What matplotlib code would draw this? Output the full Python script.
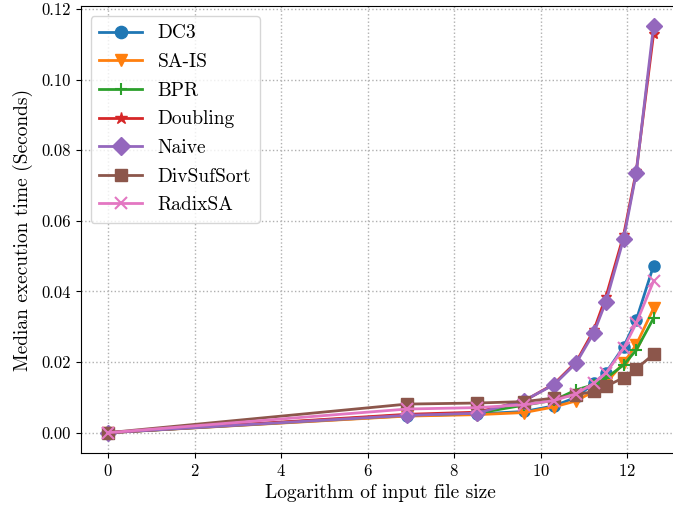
import matplotlib
matplotlib.use("Agg")
import matplotlib.pyplot as plt

plt.rcParams['font.family'] = 'serif'
plt.rcParams['font.serif'] = ['cmr10', 'DejaVu Serif']
plt.rcParams['mathtext.fontset'] = 'cm'
plt.rcParams['axes.formatter.use_mathtext'] = True

log_size = [0, 6.91, 8.52, 9.62, 10.31, 10.82, 11.23, 11.51, 11.92, 12.21, 12.61]

dc3 = [0, 0.0048, 0.0053, 0.0060, 0.0076, 0.0100, 0.0140, 0.0170, 0.0244, 0.0319, 0.0473]
sais = [0, 0.0047, 0.0051, 0.0057, 0.0073, 0.0090, 0.0117, 0.0141, 0.0198, 0.0249, 0.0352]
bpr = [0, 0.0050, 0.0055, 0.0078, 0.0092, 0.0121, 0.0136, 0.0154, 0.0192, 0.0234, 0.0324]
doubling = [0, 0.0052, 0.0058, 0.0090, 0.0138, 0.0200, 0.0290, 0.0385, 0.0560, 0.0740, 0.1129]
naive = [0, 0.0049, 0.0055, 0.0091, 0.0136, 0.0197, 0.0283, 0.0371, 0.0550, 0.0735, 0.1151]
divsufsort = [0, 0.0081, 0.0084, 0.0088, 0.0098, 0.0107, 0.0117, 0.0131, 0.0156, 0.0181, 0.0222]
radixsa = [0, 0.0067, 0.0071, 0.0079, 0.0091, 0.0110, 0.0140, 0.0169, 0.0239, 0.0310, 0.0429]

series = [
    ("DC3", dc3, "o"),
    ("SA-IS", sais, "v"),
    ("BPR", bpr, "+"),
    ("Doubling", doubling, "*"),
    ("Naive", naive, "D"),
    ("DivSufSort", divsufsort, "s"),
    ("RadixSA", radixsa, "x"),
]

fig = plt.figure(figsize=(6.73, 5.11), dpi=100)
ax = fig.add_axes([80.8 / 673, 58 / 511, 600 / 673, 447 / 511])

for name, vals, m in series:
    ax.plot(log_size, vals, marker=m, label=name, linewidth=2, markersize=8,
            markeredgewidth=1.5 if m in "+x" else 1.0)

ax.spines['right'].set_visible(False)
ax.set_xticks([0, 2, 4, 6, 8, 10, 12])
ax.set_yticks([0.00, 0.02, 0.04, 0.06, 0.08, 0.10, 0.12])
ax.set_yticklabels(["0.00", "0.02", "0.04", "0.06", "0.08", "0.10", "0.12"])
ax.tick_params(labelsize=12)
ax.grid(True, linestyle=':', color='#b0b0b0', linewidth=1)
ax.set_xlabel("Logarithm of input file size", fontsize=14)
ax.set_ylabel("Median execution time (Seconds)", fontsize=14, labelpad=6)
ax.legend(loc='upper left', fontsize=14, borderpad=0.45, labelspacing=0.55,
          handlelength=2.2, markerscale=1.1)

fig.savefig("out.png", dpi=100)
